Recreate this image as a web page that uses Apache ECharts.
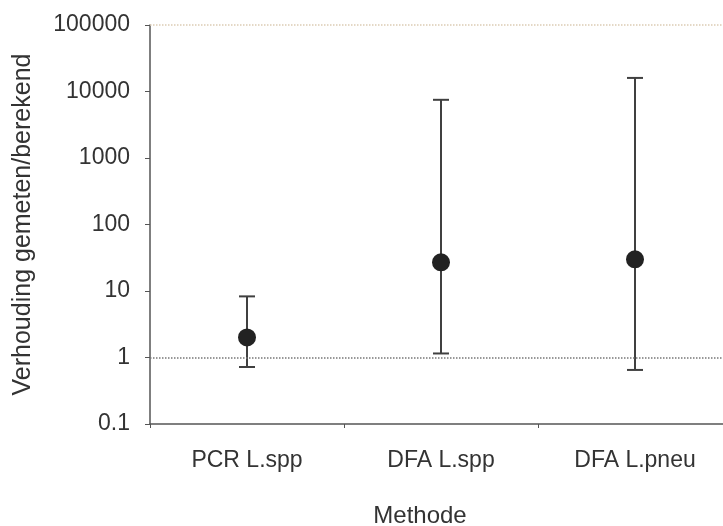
<!DOCTYPE html>
<html>
<head>
<meta charset="utf-8">
<script src="https://cdn.jsdelivr.net/npm/echarts@6/dist/echarts.min.js"></script>
<style>
html,body{margin:0;padding:0;background:#fff;}
#container{width:723px;height:526px;}
</style>
</head>
<body>
<div id="container"></div>
<script>
// methodes en gemeten/berekend verhouding (log schaal)
var methodes = ['PCR L.spp', 'DFA L.spp', 'DFA L.pneu'];
var gemiddeld = [2.0, 27, 30];
var ondergrens = [0.72, 1.15, 0.65];
var bovengrens = [8.3, 7500, 16000];
var yTicks = [0.1, 1, 10, 100, 1000, 10000, 100000];

var dom = document.getElementById('container');
var myChart = echarts.init(dom);

var foutData = [];
for (var i = 0; i < methodes.length; i++) {
    foutData.push([i, ondergrens[i], bovengrens[i]]);
}

function renderFout(params, api) {
    var x = api.value(0);
    var lo = api.coord([x, api.value(1)]);
    var hi = api.coord([x, api.value(2)]);
    var half = 8;
    var style = {stroke: '#404040', lineWidth: 2};
    return {
        type: 'group',
        children: [
            {type: 'line', shape: {x1: lo[0], y1: lo[1], x2: hi[0], y2: hi[1]}, style: style},
            {type: 'line', shape: {x1: hi[0] - half, y1: hi[1], x2: hi[0] + half, y2: hi[1]}, style: style},
            {type: 'line', shape: {x1: lo[0] - half, y1: lo[1], x2: lo[0] + half, y2: lo[1]}, style: style}
        ]
    };
}

var option = {
    backgroundColor: '#fff',
    animation: false,
    textStyle: {fontFamily: 'Liberation Sans'},
    grid: {left: 150, top: 25, width: 582, height: 399, containLabel: false, outerBoundsMode: 'none'},
    xAxis: {
        type: 'category',
        data: methodes,
        boundaryGap: true,
        name: 'Methode',
        nameLocation: 'middle',
        nameGap: 80,
        nameTextStyle: {fontSize: 24, color: '#333', padding: [0, 42, 0, 0]},
        axisLine: {lineStyle: {color: '#555', width: 1.5}},
        axisTick: {show: true, length: 4, lineStyle: {color: '#555'}},
        axisLabel: {fontSize: 23, color: '#333', margin: 25}
    },
    yAxis: {
        type: 'log',
        logBase: 10,
        min: 0.1,
        max: 100000,
        name: 'Verhouding gemeten/berekend',
        nameLocation: 'middle',
        nameGap: 114,
        nameTextStyle: {fontSize: 25, color: '#333'},
        axisLine: {show: true, lineStyle: {color: '#555', width: 1.5}},
        axisTick: {show: true, length: 5, lineStyle: {color: '#555'}},
        splitLine: {show: false},
        axisLabel: {
            fontSize: 23,
            color: '#333',
            margin: 20,
            formatter: function (v) {
                for (var k = 0; k < yTicks.length; k++) {
                    if (Math.abs(v - yTicks[k]) / yTicks[k] < 1e-6) return String(yTicks[k]);
                }
                return '';
            }
        }
    },
    series: [
        {
            type: 'custom',
            renderItem: renderFout,
            data: foutData,
            encode: {x: 0, y: [1, 2]},
            z: 2
        },
        {
            type: 'scatter',
            data: gemiddeld,
            symbol: 'circle',
            symbolSize: 18,
            itemStyle: {color: '#222', opacity: 1},
            z: 3,
            markLine: {
                silent: true,
                symbol: 'none',
                label: {show: false},
                data: [
                    {yAxis: 1, lineStyle: {color: '#777', type: 'dotted', width: 1.5}},
                    {yAxis: 100000, lineStyle: {color: '#dcccb4', type: 'dotted', width: 1.5}}
                ]
            }
        }
    ]
};

if (option && typeof option === 'object') {
    myChart.setOption(option, true);
}
</script>
</body>
</html>
